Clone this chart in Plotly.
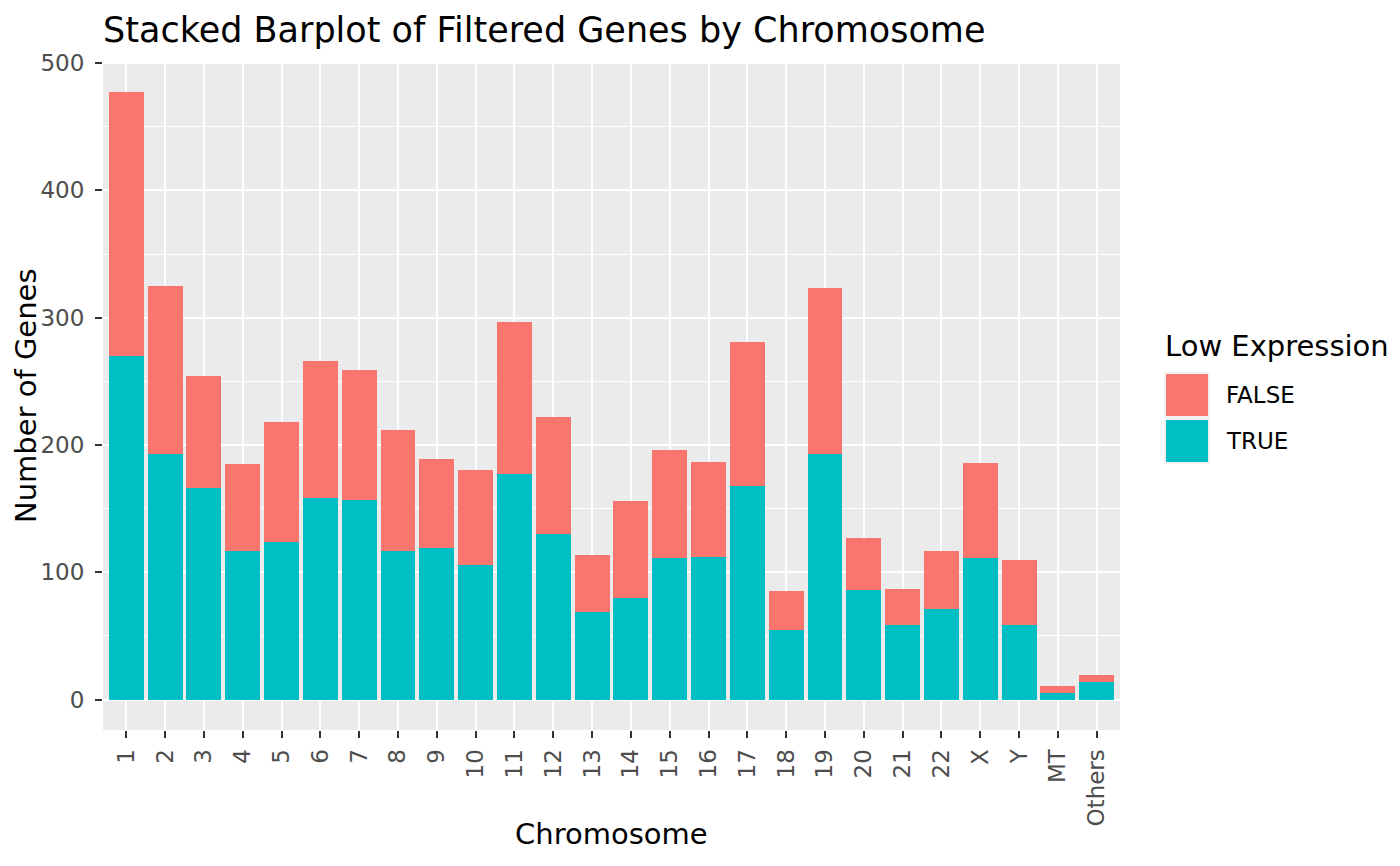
import plotly.graph_objects as go

chromosomes = ["1", "2", "3", "4", "5", "6", "7", "8", "9", "10", "11", "12", "13",
               "14", "15", "16", "17", "18", "19", "20", "21", "22", "X", "Y", "MT", "Others"]
true_counts = [270, 193, 166, 117, 124, 158, 157, 117, 119, 106, 177, 130, 69,
               80, 111, 112, 168, 55, 193, 86, 59, 71, 111, 59, 5, 14]
false_counts = [207, 132, 88, 68, 94, 108, 102, 95, 70, 74, 120, 92, 45,
                76, 85, 75, 113, 30, 130, 41, 28, 46, 75, 51, 6, 5]
y_ticks = [0, 100, 200, 300, 400, 500]

COL_FALSE = "#F8766D"
COL_TRUE = "#00BFC4"
FONT = "DejaVu Sans"

W, H = 1400, 866
L, R, T, B = 103, 1120, 62, 730


def px_x(p):
    return (p - L) / (R - L)


def px_y(p):
    return (B - p) / (B - T)


totals = [a + b for a, b in zip(true_counts, false_counts)]
ymax = max(totals)
yr = [-0.05 * ymax, ymax * 1.05]

fig = go.Figure()
fig.add_trace(go.Bar(x=chromosomes, y=true_counts, name="TRUE",
                     marker=dict(color=COL_TRUE, line=dict(width=0))))
fig.add_trace(go.Bar(x=chromosomes, y=false_counts, name="FALSE",
                     marker=dict(color=COL_FALSE, line=dict(width=0))))

fig.update_layout(
    width=W, height=H,
    barmode="stack", bargap=0.1,
    showlegend=False,
    paper_bgcolor="white", plot_bgcolor="#EBEBEB",
    margin=dict(l=L, r=W - R, t=T, b=H - B, pad=0),
    font=dict(family=FONT, color="black"),
    title=dict(text="Stacked Barplot of Filtered Genes by Chromosome",
               x=L / W, xref="container", xanchor="left",
               y=1 - 30 / H, yref="container", yanchor="middle",
               font=dict(size=35, family=FONT, color="black")),
)

fig.update_xaxes(
    type="category", categoryorder="array", categoryarray=chromosomes,
    range=[-0.6, len(chromosomes) - 0.4],
    showgrid=True, gridcolor="white", gridwidth=2,
    ticks="outside", ticklen=7, tickwidth=2, tickcolor="#333333",
    tickangle=-90, tickfont=dict(size=23, color="#4D4D4D", family=FONT),
    ticklabelstandoff=2,
    showline=False, zeroline=False, automargin=False,
)
fig.update_yaxes(
    range=yr, tickvals=y_ticks, ticktext=[str(v) for v in y_ticks],
    showgrid=True, gridcolor="white", gridwidth=2,
    minor=dict(dtick=50, tick0=0, showgrid=True, gridcolor="white", gridwidth=1, ticks=""),
    ticks="outside", ticklen=7, tickwidth=2, tickcolor="#333333",
    tickfont=dict(size=23, color="#4D4D4D", family=FONT),
    ticklabelstandoff=6,
    showline=False, zeroline=False, automargin=False,
)

# axis titles
fig.add_annotation(text="Chromosome", xref="paper", yref="paper",
                   x=0.5, y=px_y(834), xanchor="center", yanchor="middle",
                   showarrow=False, font=dict(size=29, family=FONT, color="black"))
fig.add_annotation(text="Number of Genes", xref="paper", yref="paper",
                   x=px_x(26), y=0.5, xanchor="center", yanchor="middle", textangle=-90,
                   showarrow=False, font=dict(size=29, family=FONT, color="black"))

# legend (drawn to match ggplot guide)
legend_items = [("FALSE", COL_FALSE), ("TRUE", COL_TRUE)]
key_x0, key_x1 = 1165, 1209
key_top = 373
key_h = 44
key_gap = 2
fig.add_annotation(text="Low Expression", xref="paper", yref="paper",
                   x=px_x(1163), y=px_y(346), xanchor="left", yanchor="middle",
                   showarrow=False, font=dict(size=29, family=FONT, color="black"))
for i, (lab, col) in enumerate(legend_items):
    y0 = key_top + i * (key_h + key_gap)
    y1 = y0 + key_h
    fig.add_shape(type="rect", xref="paper", yref="paper",
                  x0=px_x(key_x0), x1=px_x(key_x1), y0=px_y(y1), y1=px_y(y0),
                  fillcolor=col, line=dict(color="#F2F2F2", width=2), layer="above")
    fig.add_annotation(text=lab, xref="paper", yref="paper",
                       x=px_x(1224), y=px_y((y0 + y1) / 2), xanchor="left", yanchor="middle",
                       showarrow=False, font=dict(size=23, family=FONT, color="black"))

fig.write_html("out.html", config={"displayModeBar": False},
               post_script="document.body.style.margin='0px';document.body.style.overflow='hidden';")
